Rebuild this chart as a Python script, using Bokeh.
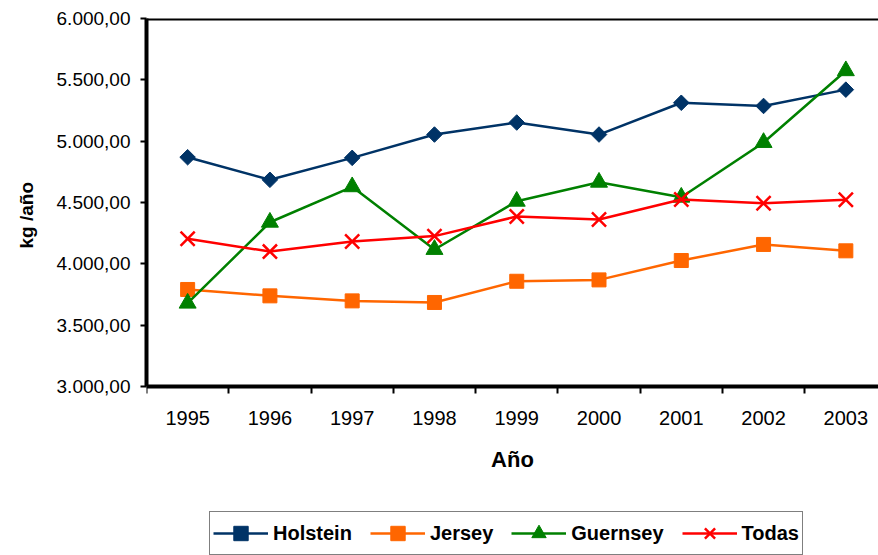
from bokeh.plotting import figure
from bokeh.models import (Range1d, FixedTicker, Legend, LegendItem, Span, Title)
from bokeh.embed import file_html
from bokeh.resources import INLINE

years = [1995, 1996, 1997, 1998, 1999, 2000, 2001, 2002, 2003]
holstein = [4869, 4685, 4864, 5054, 5152, 5054, 5313, 5287, 5420]
jersey = [3791, 3739, 3698, 3685, 3858, 3869, 4027, 4158, 4106]
guernsey = [3679, 4339, 4628, 4117, 4510, 4665, 4543, 4989, 5574]
todas = [4204, 4100, 4182, 4226, 4386, 4361, 4524, 4494, 4522]

y_ticks = [3000, 3500, 4000, 4500, 5000, 5500, 6000]
y_tick_labels = ["3.000,00", "3.500,00", "4.000,00", "4.500,00",
                 "5.000,00", "5.500,00", "6.000,00"]
x_tick_labels = [str(y) for y in years]

FONT = "Liberation Sans"

# layout (pixels): plot box top 18, axis at 386, canvas bottom 555
TOP, AXIS_Y, H = 18, 386, 555
units_per_px = (y_ticks[-1] - y_ticks[0]) / (AXIS_Y - TOP)
y_low = y_ticks[0] - (H - AXIS_Y) * units_per_px

p = figure(width=878, height=H, output_backend="svg", toolbar_location=None,
           x_range=Range1d(years[0] - 0.5, years[0] - 0.5 + 8.897),
           y_range=Range1d(y_low, y_ticks[-1]),
           min_border_left=144, min_border_right=0, min_border_top=TOP,
           min_border_bottom=0)
p.background_fill_color = "white"
p.border_fill_color = "white"
p.outline_line_color = None
p.xgrid.visible = False
p.ygrid.visible = False

# x axis, drawn at y = 3000
xa = p.xaxis[0]
xa.fixed_location = y_ticks[0]
xa.ticker = FixedTicker(ticks=years, minor_ticks=[y - 0.5 for y in years] + [years[-1] + 0.5])
xa.major_label_overrides = {y: l for y, l in zip(years, x_tick_labels)}
xa.major_tick_out = 0
xa.major_tick_in = 0
xa.minor_tick_out = 7
xa.minor_tick_in = 0
xa.minor_tick_line_width = 2
xa.axis_line_width = 4
xa.axis_line_color = "black"
xa.major_label_text_font = FONT
xa.major_label_text_font_size = "20px"
xa.major_label_text_color = "black"
xa.major_label_standoff = 17
xa.axis_label = "Año"
xa.axis_label_text_font = FONT
xa.axis_label_text_font_size = "22px"
xa.axis_label_text_font_style = "bold"
xa.axis_label_text_color = "black"
xa.axis_label_standoff = 19

# y axis
ya = p.yaxis[0]
ya.bounds = (y_ticks[0], y_ticks[-1])
ya.ticker = FixedTicker(ticks=y_ticks, minor_ticks=[])
ya.major_label_overrides = {t: l for t, l in zip(y_ticks, y_tick_labels)}
ya.major_tick_out = 6
ya.major_tick_in = 0
ya.major_tick_line_width = 2
ya.minor_tick_out = 0
ya.minor_tick_in = 0
ya.axis_line_width = 4
ya.axis_line_color = "black"
ya.major_label_text_font = FONT
ya.major_label_text_font_size = "19px"
ya.major_label_text_color = "black"
ya.major_label_standoff = 10

# y axis title, placed beside the 3.000-6.000 span
p.add_layout(Title(text="kg /año", align="left", offset=307, standoff=30,
                   vertical_align="top",
                   text_font=FONT, text_font_size="19px", text_font_style="bold",
                   text_color="black"), "left")

# top border
p.add_layout(Span(location=y_ticks[-1], dimension="width", line_color="black", line_width=4))

series = [
    ("Holstein", holstein, "#003366", "square", 11, 0.785398),
    ("Jersey", jersey, "#FF6600", "square", 14, 0),
    ("Guernsey", guernsey, "#008000", "triangle", 17, 0),
    ("Todas", todas, "#FF0000", "x", 20, 0),
]

items = []
for name, vals, color, marker, size, ang in series:
    lr = p.line(years, vals, line_color=color, line_width=2.5)
    if marker == "x":
        sr = p.scatter(years, vals, marker=marker, size=size, line_color=color,
                       line_width=2.5)
    else:
        sr = p.scatter(years, vals, marker=marker, size=size, fill_color=color,
                       line_color=color, angle=ang)
    items.append(LegendItem(label=name, renderers=[lr, sr]))

legend = Legend(items=items, orientation="horizontal", location=(63, 0),
                label_text_font=FONT, label_text_font_size="20px",
                label_text_font_style="bold", label_text_color="black",
                glyph_width=55, glyph_height=36, label_standoff=5, spacing=18,
                padding=3, margin=0, border_line_color="black",
                border_line_width=1.5, background_fill_color="white",
                background_fill_alpha=1.0)
p.add_layout(legend, "center")

open("out.html", "w").write(file_html(p, INLINE))
